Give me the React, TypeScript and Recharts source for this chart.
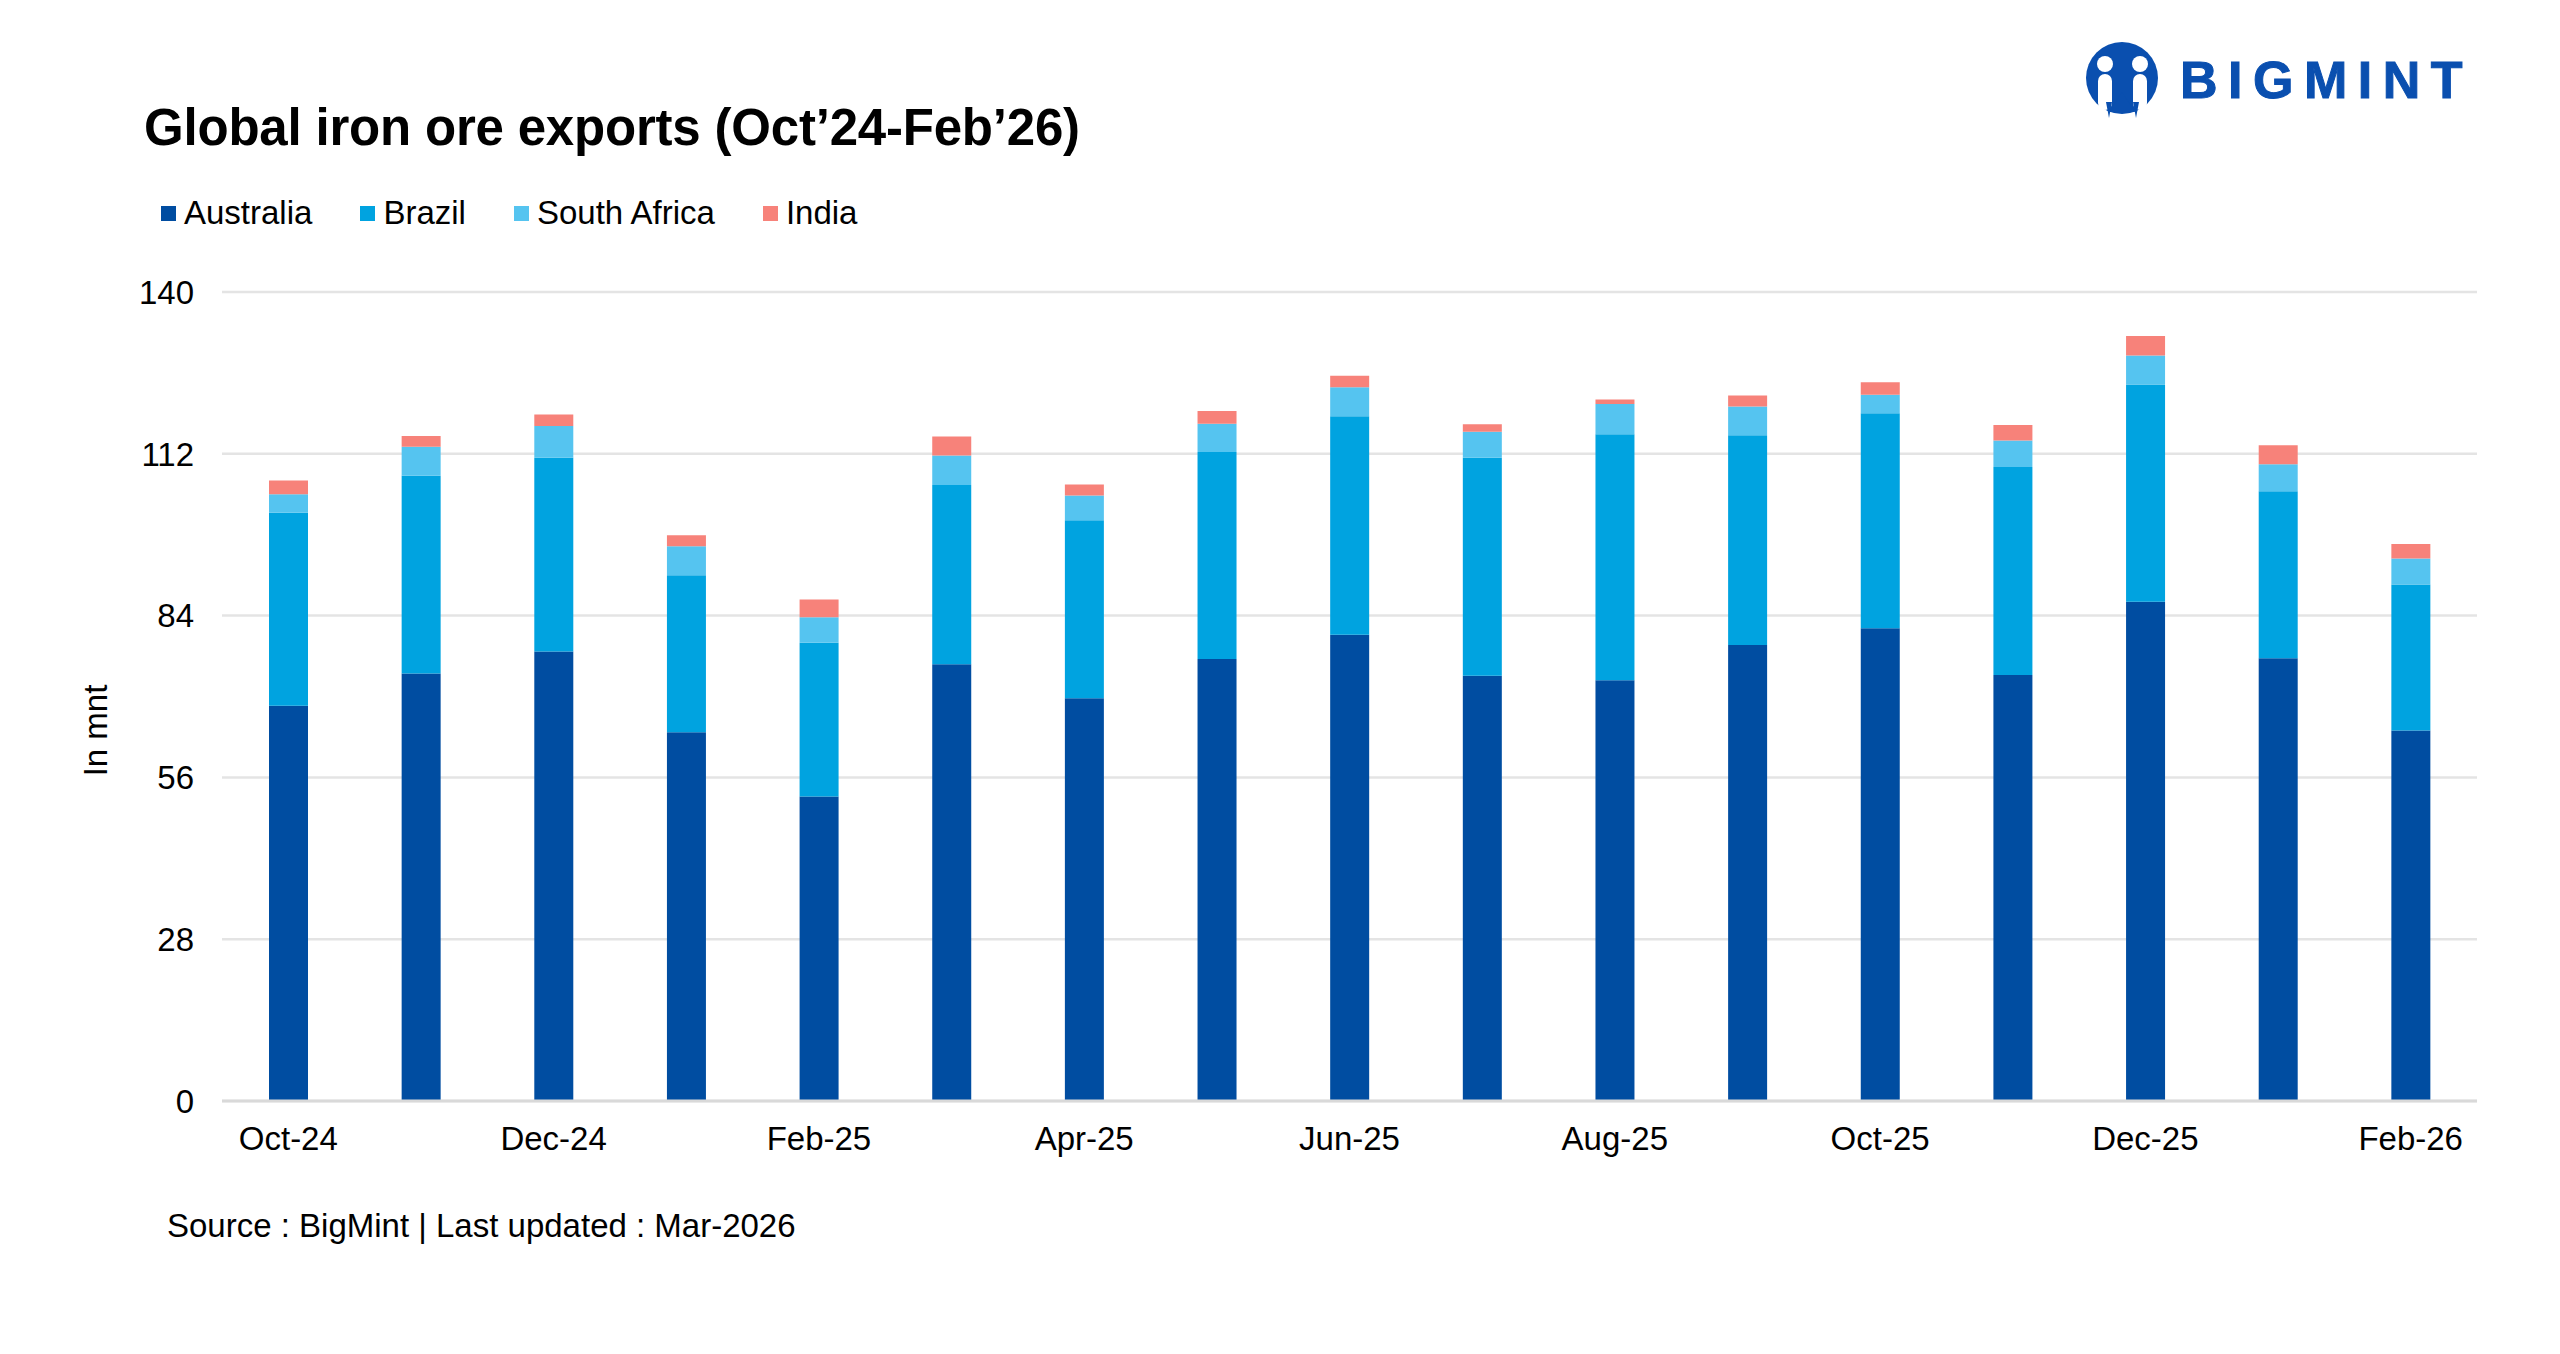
import React from 'react';
import { BarChart, Bar, XAxis, YAxis, CartesianGrid, Legend } from 'recharts';

const months = [
  'Oct-24', 'Nov-24', 'Dec-24', 'Jan-25', 'Feb-25', 'Mar-25', 'Apr-25', 'May-25', 'Jun-25',
  'Jul-25', 'Aug-25', 'Sep-25', 'Oct-25', 'Nov-25', 'Dec-25', 'Jan-26', 'Feb-26',
];
const australia = [68.4, 74.0, 77.8, 63.8, 52.7, 75.6, 69.7, 76.5, 80.7, 73.6, 72.8, 78.9, 81.8, 73.7, 86.4, 76.6, 64.1];
const brazil = [33.4, 34.2, 33.5, 27.2, 26.6, 31.0, 30.8, 35.8, 37.8, 37.7, 42.6, 36.3, 37.2, 36.0, 37.6, 28.9, 25.3];
const southAfrica = [3.2, 5.0, 5.5, 5.0, 4.4, 5.1, 4.3, 4.9, 5.0, 4.5, 5.2, 5.0, 3.2, 4.6, 5.0, 4.7, 4.5];
const india = [2.4, 1.9, 2.0, 1.9, 3.1, 3.3, 1.9, 2.2, 2.0, 1.3, 0.8, 1.9, 2.2, 2.7, 3.4, 3.3, 2.5];
const yTicks = [0, 28, 56, 84, 112, 140];
const seriesOrder = ['Australia', 'Brazil', 'South Africa', 'India'];

const data = months.map((m, i) => ({
  month: m,
  Australia: australia[i],
  Brazil: brazil[i],
  'South Africa': southAfrica[i],
  India: india[i],
}));

const FONT = '"Liberation Sans", Arial, sans-serif';

const LegendContent = (props: any) => {
  const items = [...(props.payload || [])].sort(
    (a: any, b: any) => seriesOrder.indexOf(a.value) - seriesOrder.indexOf(b.value)
  );
  return (
    <div style={{ display: 'flex', alignItems: 'center', fontFamily: FONT, fontSize: 33, color: '#000' }}>
      {items.map((p: any) => (
        <div key={p.value} style={{ display: 'flex', alignItems: 'center', marginRight: 48 }}>
          <span style={{ width: 15, height: 15, background: p.color, display: 'inline-block', marginRight: 8 }} />
          <span>{p.value}</span>
        </div>
      ))}
    </div>
  );
};

const Logo = () => (
  <div style={{ position: 'absolute', left: 2084, top: 40, display: 'flex', alignItems: 'center' }}>
    <svg width={80} height={80} viewBox="0 0 80 80">
      <circle cx={38} cy={38} r={36} fill="#0a4faf" />
      <circle cx={21} cy={24} r={8} fill="#fff" />
      <circle cx={56} cy={24} r={8} fill="#fff" />
      <rect x={14} y={34} width={14} height={36} rx={7} fill="#fff" />
      <rect x={49} y={34} width={14} height={36} rx={7} fill="#fff" />
      <path d="M25 72 L38 52 L51 72 Z" fill="#0a4faf" />
      <path d="M22 62 L25 78 L28 62 Z M49 62 L52 78 L55 62 Z" fill="#0a4faf" />
    </svg>
    <div
      style={{
        marginLeft: 16,
        fontFamily: FONT,
        fontWeight: 700,
        fontSize: 52,
        letterSpacing: 10.5,
        color: '#0a4faf',
        lineHeight: 1,
        WebkitTextStroke: '1px #0a4faf',
      }}
    >
      BIGMINT
    </div>
  </div>
);

export default function App() {
  return (
    <div style={{ position: 'absolute', left: 0, top: 0, width: 2560, height: 1354, background: '#fff', overflow: 'hidden' }}>
      <div
        style={{
          position: 'absolute',
          left: 144,
          top: 102,
          fontFamily: FONT,
          fontWeight: 700,
          fontSize: 51,
          lineHeight: 1,
          color: '#000',
          letterSpacing: -0.2,
        }}
      >
        Global iron ore exports (Oct’24-Feb’26)
      </div>
      <Logo />

      <BarChart
        width={2560}
        height={1354}
        data={data}
        margin={{ top: 254, right: 83, bottom: 193, left: 0 }}
        barSize={39}
        style={{ fontFamily: FONT }}
      >
        <CartesianGrid vertical={false} stroke="#e4e4e4" strokeWidth={2.5} />
        <XAxis
          dataKey="month"
          interval={1}
          tickLine={false}
          axisLine={{ stroke: '#d9d9d9', strokeWidth: 3 }}
          tick={{ fill: '#000', fontSize: 33 }}
          tickMargin={20}
          height={60}
        />
        <YAxis
          domain={[0, 140]}
          ticks={yTicks}
          width={222}
          tickLine={false}
          axisLine={false}
          tick={{ fill: '#000', fontSize: 33 }}
          tickMargin={22}
          label={{
            value: 'In mnt',
            angle: -90,
            position: 'insideLeft',
            dx: 90,
            dy: 34,
            style: { fill: '#000', fontSize: 33, textAnchor: 'middle' },
          }}
        />
        <Legend
          verticalAlign="top"
          align="left"
          content={<LegendContent />}
          wrapperStyle={{ top: 194, left: 161, width: 'auto' }}
        />
        <Bar dataKey="Australia" stackId="a" fill="#004da1" isAnimationActive={false} />
        <Bar dataKey="Brazil" stackId="a" fill="#00a3e0" isAnimationActive={false} />
        <Bar dataKey="South Africa" stackId="a" fill="#55c4f0" isAnimationActive={false} />
        <Bar dataKey="India" stackId="a" fill="#f7827a" isAnimationActive={false} />
      </BarChart>

      <div
        style={{
          position: 'absolute',
          left: 167,
          top: 1209,
          fontFamily: FONT,
          fontSize: 33,
          lineHeight: 1,
          color: '#000',
        }}
      >
        Source : BigMint | Last updated : Mar-2026
      </div>
    </div>
  );
}
